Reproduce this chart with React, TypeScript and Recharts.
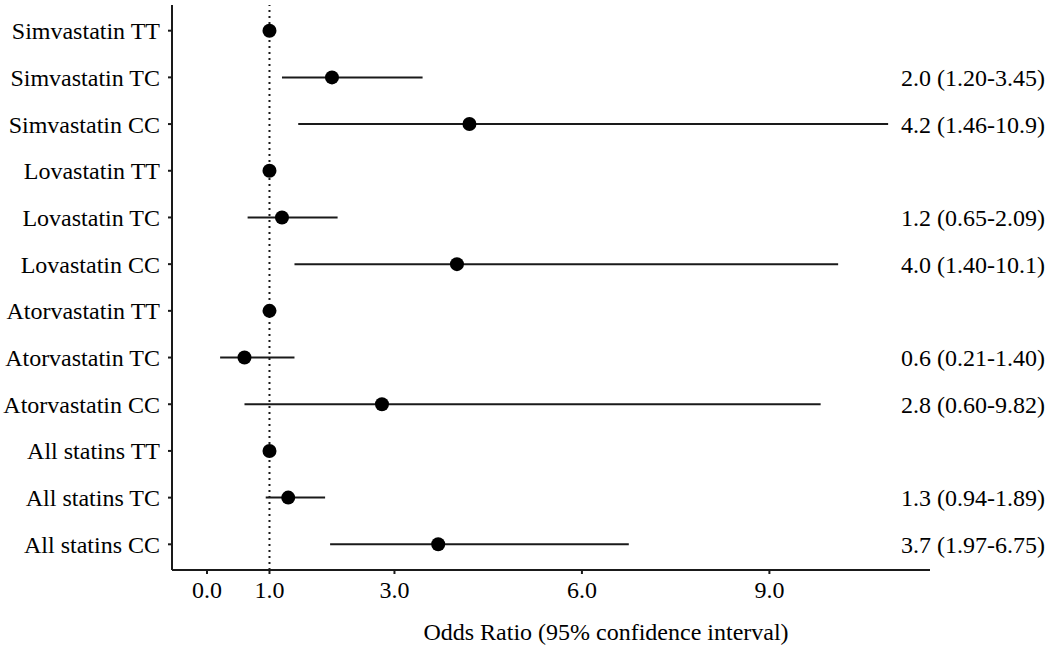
import React from 'react';
import { ScatterChart, Scatter, XAxis, YAxis, ErrorBar, ReferenceLine, Label } from 'recharts';

const rowNames = [
  'Simvastatin TT', 'Simvastatin TC', 'Simvastatin CC',
  'Lovastatin TT', 'Lovastatin TC', 'Lovastatin CC',
  'Atorvastatin TT', 'Atorvastatin TC', 'Atorvastatin CC',
  'All statins TT', 'All statins TC', 'All statins CC',
];
const oddsRatio = [1, 2.0, 4.2, 1, 1.2, 4.0, 1, 0.6, 2.8, 1, 1.3, 3.7];
const ciLow = [1, 1.20, 1.46, 1, 0.65, 1.40, 1, 0.21, 0.60, 1, 0.94, 1.97];
const ciHigh = [1, 3.45, 10.9, 1, 2.09, 10.1, 1, 1.40, 9.82, 1, 1.89, 6.75];
const rightLabels = [
  '', '2.0 (1.20-3.45)', '4.2 (1.46-10.9)',
  '', '1.2 (0.65-2.09)', '4.0 (1.40-10.1)',
  '', '0.6 (0.21-1.40)', '2.8 (0.60-9.82)',
  '', '1.3 (0.94-1.89)', '3.7 (1.97-6.75)',
];
const xTicks = [0, 1, 3, 6, 9];

const FONT = "'Liberation Serif', 'Times New Roman', serif";
const FS = 24;
const INK = '#1a1a1a';

// one point per row, error as [below, above] deltas for the CI
const rows = rowNames.map((name, i) => ({
  name,
  idx: i,
  or: oddsRatio[i],
  err: [oddsRatio[i] - ciLow[i], ciHigh[i] - oddsRatio[i]],
}));
const rowTicks = rowNames.map((_, i) => i);

const Dot = (p: any) => <circle cx={p.cx} cy={p.cy} r={7} fill="#000" />;

const RightTick = (p: any) => (
  <text x={p.x + 115} y={p.y} dy="0.355em" textAnchor="end" fontFamily={FONT} fontSize={FS} fill="#000">
    {rightLabels[p.payload.value]}
  </text>
);

export default function App() {
  return (
    <div style={{ position: 'absolute', left: 0, top: 0, width: 1050, height: 650, background: '#fff' }}>
      <ScatterChart width={1050} height={650} margin={{ top: 5, right: 0, bottom: 0, left: 0 }}>
        <XAxis
          type="number"
          dataKey="or"
          domain={[-0.56, 11.57]}
          allowDataOverflow
          ticks={xTicks}
          tickFormatter={(v: number) => v.toFixed(1)}
          height={80}
          tickSize={4}
          tickMargin={7}
          axisLine={{ stroke: INK, strokeWidth: 2 }}
          tickLine={{ stroke: INK, strokeWidth: 2 }}
          tick={{ fontFamily: FONT, fontSize: FS, fill: '#000' }}
        >
          <Label
            value="Odds Ratio (95% confidence interval)"
            position="insideBottom"
            offset={10}
            dx={55}
            style={{ fontFamily: FONT, fontSize: FS, fill: '#000' }}
          />
        </XAxis>
        <YAxis
          yAxisId="left"
          type="number"
          dataKey="idx"
          domain={[-0.55, 11.55]}
          reversed
          allowDataOverflow
          ticks={rowTicks}
          interval={0}
          tickFormatter={(v: number) => rowNames[v]}
          width={172}
          tickSize={4}
          tickMargin={8}
          axisLine={{ stroke: INK, strokeWidth: 2 }}
          tickLine={{ stroke: INK, strokeWidth: 2 }}
          tick={{ fontFamily: FONT, fontSize: FS, fill: '#000' }}
        />
        <YAxis
          yAxisId="right"
          orientation="right"
          type="number"
          domain={[-0.55, 11.55]}
          reversed
          allowDataOverflow
          ticks={rowTicks}
          interval={0}
          width={120}
          tickSize={0}
          tickMargin={0}
          axisLine={false}
          tickLine={false}
          tick={RightTick}
        />
        <ReferenceLine yAxisId="left" x={1} stroke={INK} strokeWidth={2} strokeDasharray="2 4" />
        <Scatter yAxisId="left" data={rows} shape={Dot} isAnimationActive={false}>
          <ErrorBar dataKey="err" direction="x" width={0} stroke={INK} strokeWidth={2} isAnimationActive={false} />
        </Scatter>
      </ScatterChart>
    </div>
  );
}
